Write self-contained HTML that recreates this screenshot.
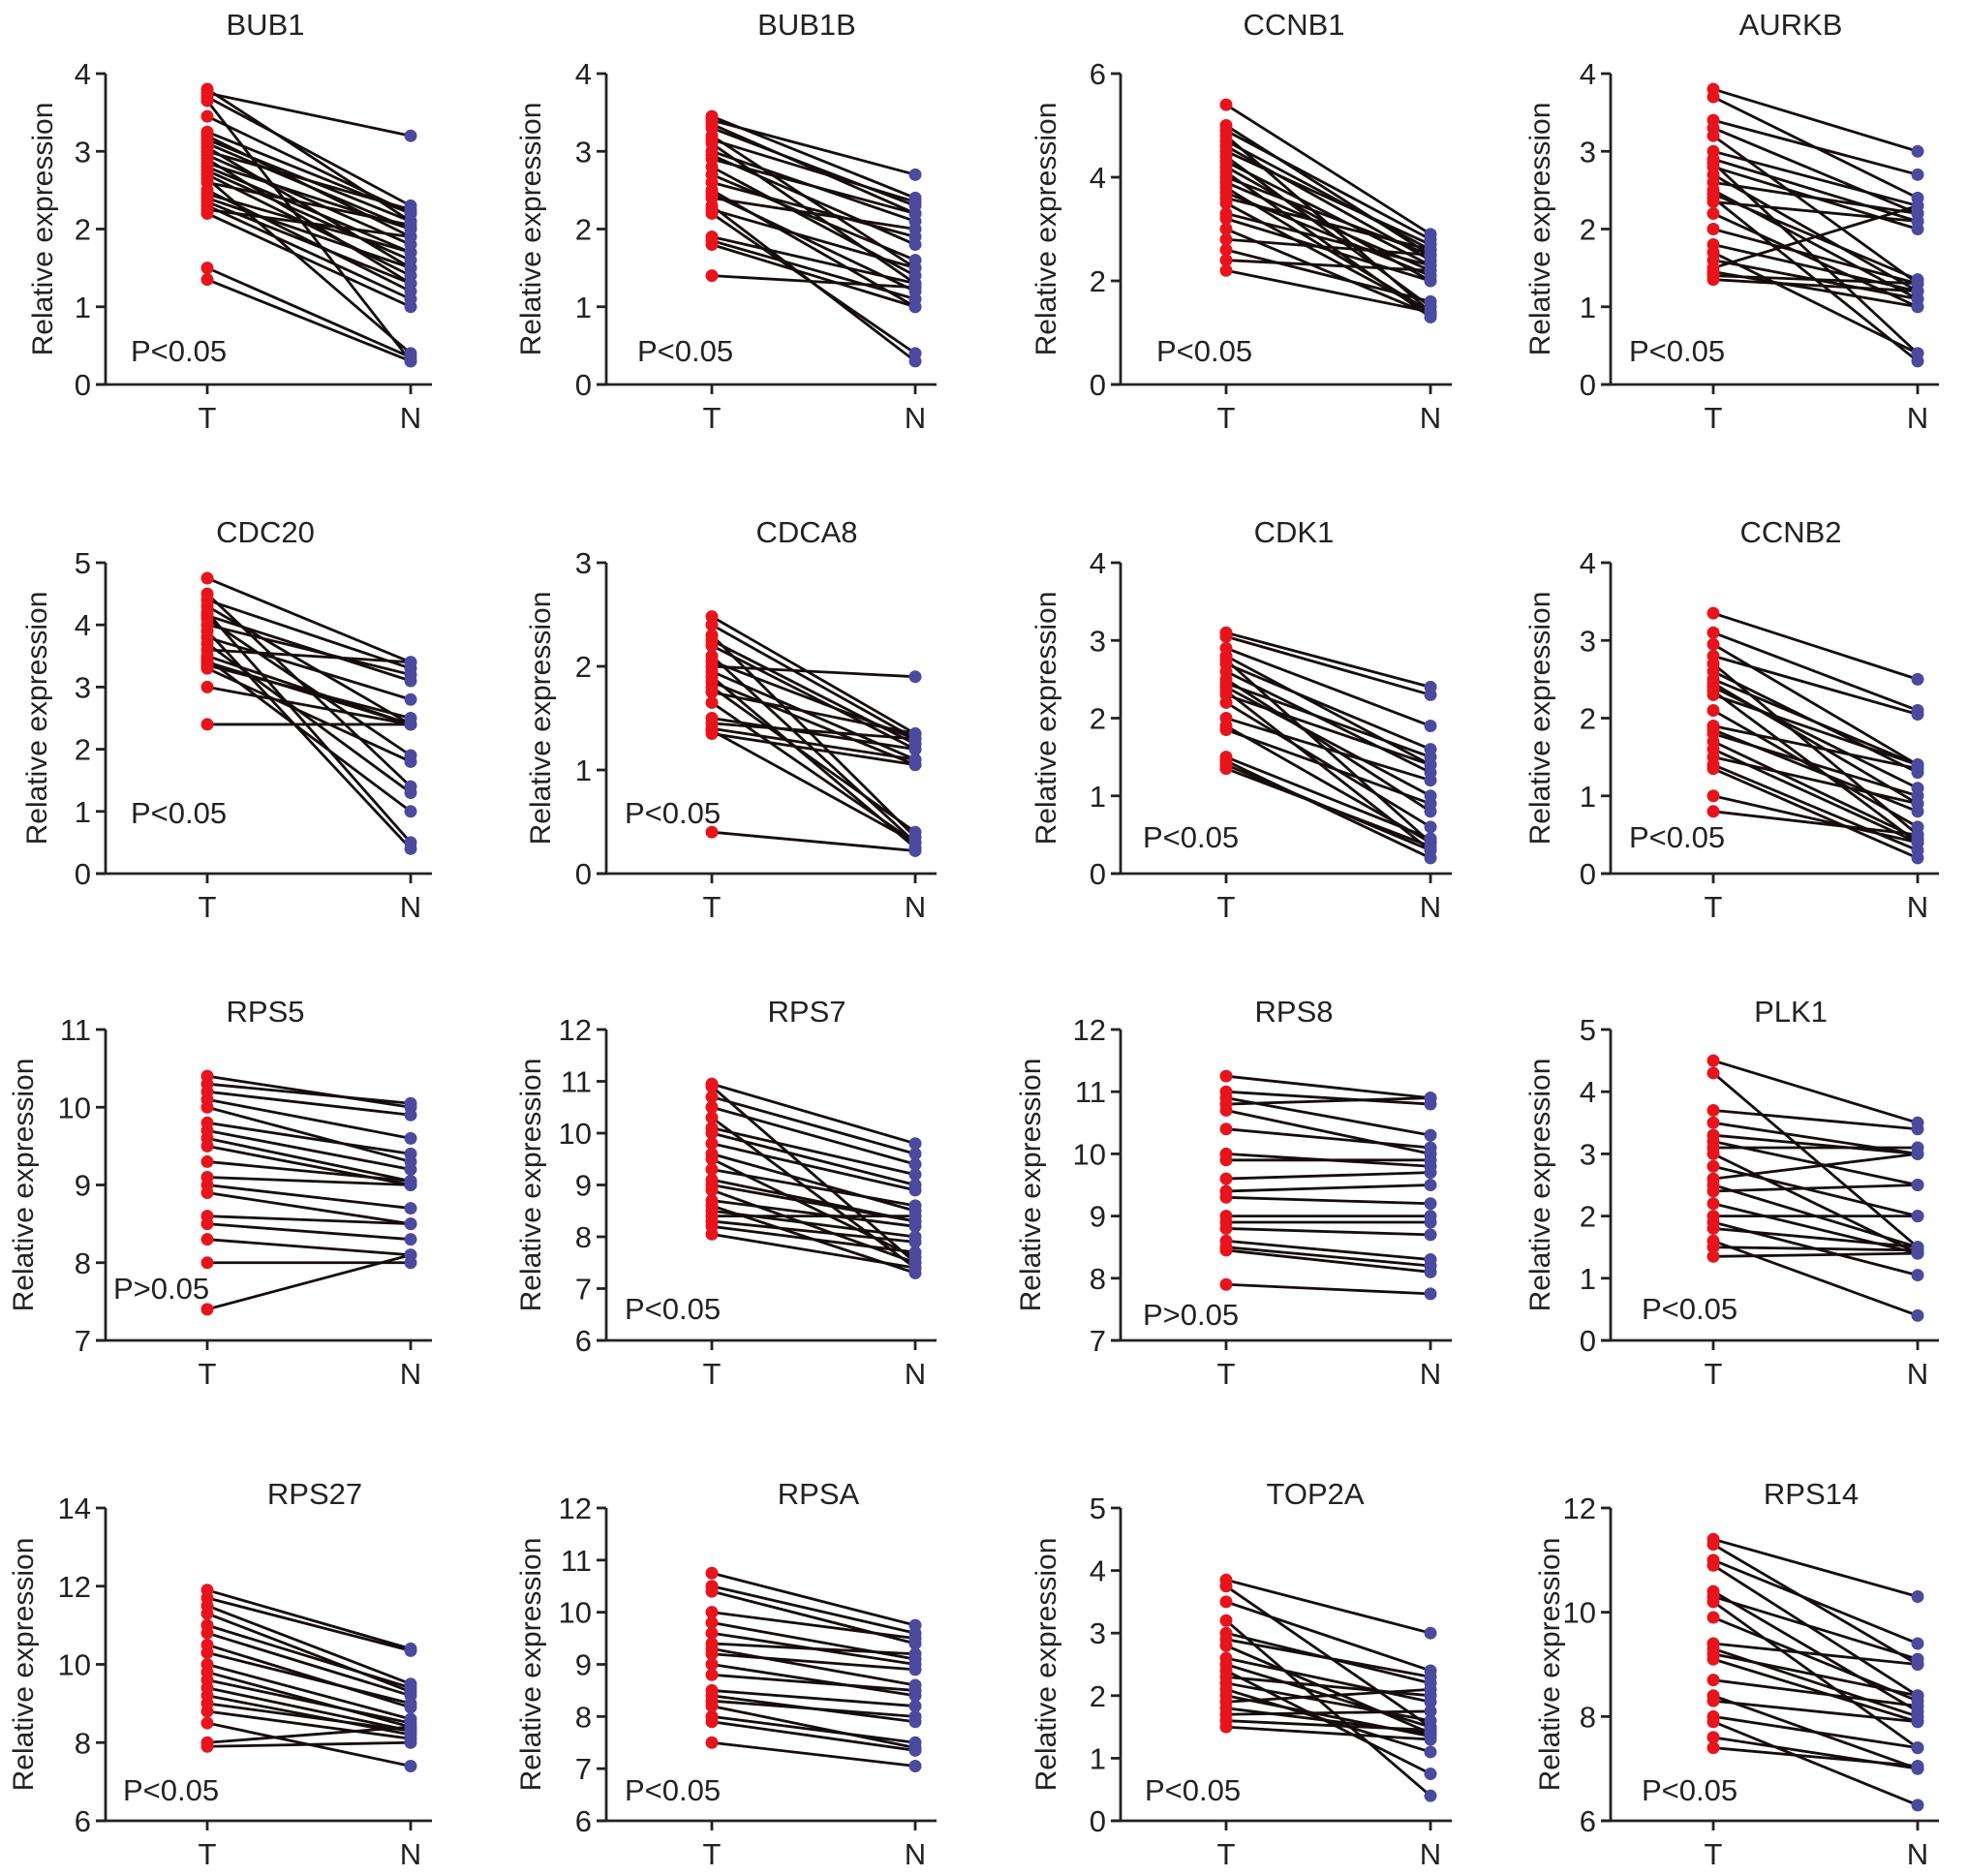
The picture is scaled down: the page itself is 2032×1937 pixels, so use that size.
<!DOCTYPE html>
<html><head><meta charset="utf-8"><style>
html,body{margin:0;padding:0;background:#fff}
svg{display:block}
text{font-family:"Liberation Sans",Arial,sans-serif;fill:#222}
</style></head><body>
<svg id="fig" width="2032" height="1937" viewBox="0 0 2032 1937" xmlns="http://www.w3.org/2000/svg"></svg>
<script>
const genes=["BUB1","BUB1B","CCNB1","AURKB","CDC20","CDCA8","CDK1","CCNB2","RPS5","RPS7","RPS8","PLK1","RPS27","RPSA","TOP2A","RPS14"];
const yMins=[0,0,0,0,0,0,0,0,7,6,7,0,6,6,0,6];
const yMaxs=[4,4,6,4,5,3,4,4,11,12,12,5,14,12,5,12];
const ySteps=[1,1,2,1,1,1,1,1,1,1,1,1,2,1,1,2];
const pTexts=["P<0.05","P<0.05","P<0.05","P<0.05","P<0.05","P<0.05","P<0.05","P<0.05","P>0.05","P<0.05","P>0.05","P<0.05","P<0.05","P<0.05","P<0.05","P<0.05"];
const xCats=["T","N"];
const tVals=[
[3.8,3.75,3.7,3.65,3.45,3.25,3.2,3.15,3.1,3.05,3.0,2.95,2.9,2.85,2.8,2.75,2.7,2.65,2.6,2.5,2.45,2.4,2.35,2.3,2.25,2.2,1.5,1.35],
[3.45,3.4,3.35,3.3,3.2,3.15,3.1,3.0,2.95,2.9,2.8,2.7,2.6,2.5,2.45,2.4,2.3,2.25,2.2,1.9,1.85,1.8,1.4],
[5.4,5.0,4.9,4.8,4.7,4.6,4.5,4.4,4.3,4.2,4.1,4.0,3.9,3.8,3.7,3.6,3.5,3.3,3.2,3.0,2.8,2.6,2.4,2.2],
[3.8,3.7,3.4,3.3,3.2,3.0,2.9,2.85,2.8,2.7,2.6,2.5,2.45,2.4,2.35,2.2,2.0,1.8,1.7,1.6,1.5,1.45,1.4,1.35],
[4.75,4.5,4.4,4.3,4.2,4.15,4.1,4.0,3.9,3.8,3.7,3.6,3.5,3.45,3.4,3.35,3.3,3.0,2.4],
[2.48,2.4,2.3,2.25,2.2,2.1,2.05,2.0,1.95,1.9,1.85,1.8,1.75,1.65,1.5,1.45,1.4,1.38,1.35,0.4],
[3.1,3.05,2.9,2.8,2.75,2.7,2.6,2.5,2.45,2.4,2.35,2.3,2.2,2.0,1.9,1.85,1.5,1.45,1.4,1.35],
[3.35,3.1,2.95,2.8,2.7,2.6,2.5,2.45,2.4,2.35,2.3,2.1,1.9,1.85,1.8,1.7,1.6,1.5,1.4,1.35,1.0,0.8],
[10.4,10.3,10.2,10.1,10.0,9.8,9.7,9.6,9.5,9.3,9.1,9.0,8.9,8.6,8.5,8.3,8.0,7.4],
[10.95,10.9,10.7,10.5,10.3,10.1,10.0,9.8,9.6,9.5,9.3,9.1,9.0,8.9,8.7,8.6,8.5,8.4,8.3,8.2,8.05],
[11.25,11.0,10.9,10.8,10.7,10.4,10.0,9.9,9.6,9.4,9.3,9.0,8.9,8.8,8.6,8.5,8.45,7.9],
[4.5,4.3,3.7,3.5,3.3,3.2,3.1,3.0,2.8,2.6,2.5,2.4,2.2,2.0,1.9,1.8,1.6,1.5,1.35],
[11.9,11.7,11.5,11.3,11.0,10.8,10.5,10.3,10.0,9.8,9.6,9.4,9.2,9.0,8.8,8.5,8.0,7.9],
[10.75,10.5,10.4,10.0,9.8,9.6,9.4,9.3,9.2,9.0,8.8,8.5,8.4,8.3,8.2,8.0,7.9,7.5],
[3.85,3.75,3.5,3.2,3.0,2.9,2.8,2.6,2.5,2.4,2.3,2.2,2.1,2.0,1.9,1.8,1.7,1.6,1.5],
[11.4,11.3,11.0,10.9,10.4,10.3,10.2,9.9,9.4,9.3,9.2,9.1,8.7,8.4,8.3,8.0,7.9,7.6,7.4]];
const nVals=[
[2.1,3.2,2.3,0.3,2.2,2.2,1.9,2.1,2.0,1.5,2.25,1.8,1.3,2.0,1.7,1.6,1.4,0.4,2.05,1.2,1.7,1.5,1.3,1.1,1.9,1.0,0.35,0.3],
[2.4,2.7,2.2,2.3,1.5,2.35,1.3,2.1,1.8,2.2,1.4,1.6,1.9,1.0,1.2,2.0,0.3,1.5,0.4,1.3,1.1,1.0,1.25],
[2.9,2.5,2.8,1.4,2.6,2.4,2.7,1.5,2.3,2.0,1.3,2.5,2.2,1.4,2.1,2.6,1.4,2.3,2.0,1.35,2.5,1.6,2.2,1.4],
[3.0,2.4,2.7,2.2,1.3,2.3,2.1,0.4,2.0,1.2,2.2,1.1,1.35,0.3,2.1,1.0,1.3,1.2,0.4,1.1,2.3,1.0,1.3,1.2],
[3.4,1.4,3.3,2.4,0.5,3.1,1.9,3.2,0.4,2.8,1.3,3.4,2.4,1.0,2.4,2.5,1.8,2.4,2.4],
[1.35,1.3,0.35,1.25,1.2,0.3,1.3,1.9,1.1,0.25,1.05,0.4,1.35,0.3,1.2,1.3,1.1,0.3,1.05,0.22],
[2.4,2.3,1.9,1.4,0.4,1.6,1.3,0.8,1.5,1.0,0.3,1.4,0.6,1.2,0.4,0.9,0.45,0.2,0.3,0.35],
[2.5,2.1,1.4,2.05,0.5,1.3,1.4,0.9,1.1,0.4,1.4,0.6,1.35,0.8,1.0,0.45,0.4,0.9,0.3,0.2,0.4,0.5],
[10.0,10.05,9.9,9.6,9.3,9.4,9.2,9.05,9.0,9.05,9.0,8.7,8.5,8.5,8.3,8.1,8.0,8.1],
[9.8,7.5,9.6,9.4,7.4,9.2,9.0,8.9,8.5,7.6,8.6,8.3,8.3,7.5,8.2,7.3,8.0,8.4,7.9,7.7,7.4],
[10.9,10.8,10.3,10.9,10.0,10.1,9.8,9.9,9.7,9.5,9.2,9.0,8.9,8.7,8.3,8.2,8.1,7.75],
[3.5,1.5,3.4,3.0,3.0,2.5,3.1,1.4,2.0,3.0,1.5,2.5,1.4,2.0,1.05,1.5,0.4,1.45,1.4],
[10.4,10.35,9.5,9.3,9.4,9.2,8.9,9.0,8.6,8.4,8.5,8.3,8.2,8.3,8.1,7.4,8.4,8.0],
[9.75,9.6,9.4,9.5,9.1,9.0,9.2,8.6,8.9,8.4,8.5,8.2,7.9,8.0,7.4,7.5,7.35,7.05],
[3.0,1.5,2.4,0.4,2.2,2.3,1.4,1.9,1.5,0.75,2.0,1.6,1.1,1.35,2.1,1.4,1.75,1.45,1.3],
[10.3,9.0,9.4,8.4,8.1,9.1,7.4,8.3,9.0,8.0,8.4,7.9,8.2,7.0,7.9,7.4,6.3,7.0,7.05]];

// layout (pixel positions, not data)
const colAxisX=[109,626,1157,1663], colT=[214,735,1266,1769], colN=[424,945,1477,1980];
const rowTop=[76,581,1063,1557], rowBot=[397,902,1384,1880];
const titleX=[[274,833,1336,1849],[274,833,1336,1849],[274,833,1336,1849],[325,845,1358,1870]];
const titleY=[36,560,1055,1553];
const pPos=[[[135,373],[658,373],[1194,373],[1682,373]],[[135,850],[645,850],[1180,875],[1682,875]],[[117,1341],[645,1362],[1180,1368],[1695,1362]],[[127,1859],[645,1859],[1182,1859],[1695,1859]]];
const ylabX=[[54,558,1090,1600],[48,568,1090,1600],[34,558,1074,1600],[34,558,1090,1610]];

const NS="http://www.w3.org/2000/svg";
const svg=document.getElementById('fig');
function mk(tag,attrs,parent){const e=document.createElementNS(NS,tag);for(const k in attrs)e.setAttribute(k,attrs[k]);(parent||svg).appendChild(e);return e;}

genes.forEach((g,i)=>{
  const r=Math.floor(i/4), c=i%4;
  const ax=colAxisX[c], top=rowTop[r], bot=rowBot[r];
  const y0=yMins[i], y1=yMaxs[i];
  const yS=v=>bot-(v-y0)/(y1-y0)*(bot-top);
  const xS=k=>k===0?colT[c]:colN[c];
  const gp=mk('g',{});
  
  
  const t=mk('text',{x:titleX[r][c],y:titleY[r],'font-size':31,'text-anchor':'middle'},gp);
  t.textContent=g;
  
  
  const ya=mk('line',{x1:ax,y1:top,x2:ax,y2:bot,stroke:'#222','stroke-width':2.8},gp);
  
  
  for(let v=y0;v<=y1+1e-9;v+=ySteps[i]){
    const y=yS(v);
    const tk=mk('line',{x1:ax-10,y1:y,x2:ax,y2:y,stroke:'#222','stroke-width':2.8},gp);
    
    
    const tl=mk('text',{x:ax-15,y:y+11,'font-size':31,'text-anchor':'end'},gp);
    tl.textContent=String(v);
    
    
  }
  const xa=mk('line',{x1:ax-10,y1:bot,x2:colN[c]+22,y2:bot,stroke:'#222','stroke-width':2.8},gp);
  
  
  xCats.forEach((lab,k)=>{
    const x=xS(k);
    const tk=mk('line',{x1:x,y1:bot,x2:x,y2:bot+10,stroke:'#222','stroke-width':2.8},gp);
    
    
    const tl=mk('text',{x:x,y:bot+45,'font-size':31,'text-anchor':'middle'},gp);
    tl.textContent=lab;
    
    
  });
  const yl=mk('text',{x:ylabX[r][c],y:(top+bot)/2,'font-size':30,'text-anchor':'middle',transform:`rotate(-90 ${ylabX[r][c]} ${(top+bot)/2})`},gp);
  yl.textContent='Relative expression';
  
  
  const pt=mk('text',{x:pPos[r][c][0],y:pPos[r][c][1],'font-size':31},gp);
  pt.textContent=pTexts[i];
  
  
  const T=tVals[i], N=nVals[i];
  const n=Math.min(T.length,N.length);
  for(let j=0;j<n;j++){
    const ln=mk('line',{x1:xS(0),y1:yS(T[j]),x2:xS(1),y2:yS(N[j]),stroke:'#150d0d','stroke-width':2.8},gp);
    
    
  }
  for(let j=0;j<n;j++){
    const a=mk('circle',{cx:xS(0),cy:yS(T[j]),r:6.5,fill:'#e8141c'},gp);
    
    
    const b=mk('circle',{cx:xS(1),cy:yS(N[j]),r:6.5,fill:'#4b4a9e'},gp);
    
    
  }
});
</script>
</body></html>
